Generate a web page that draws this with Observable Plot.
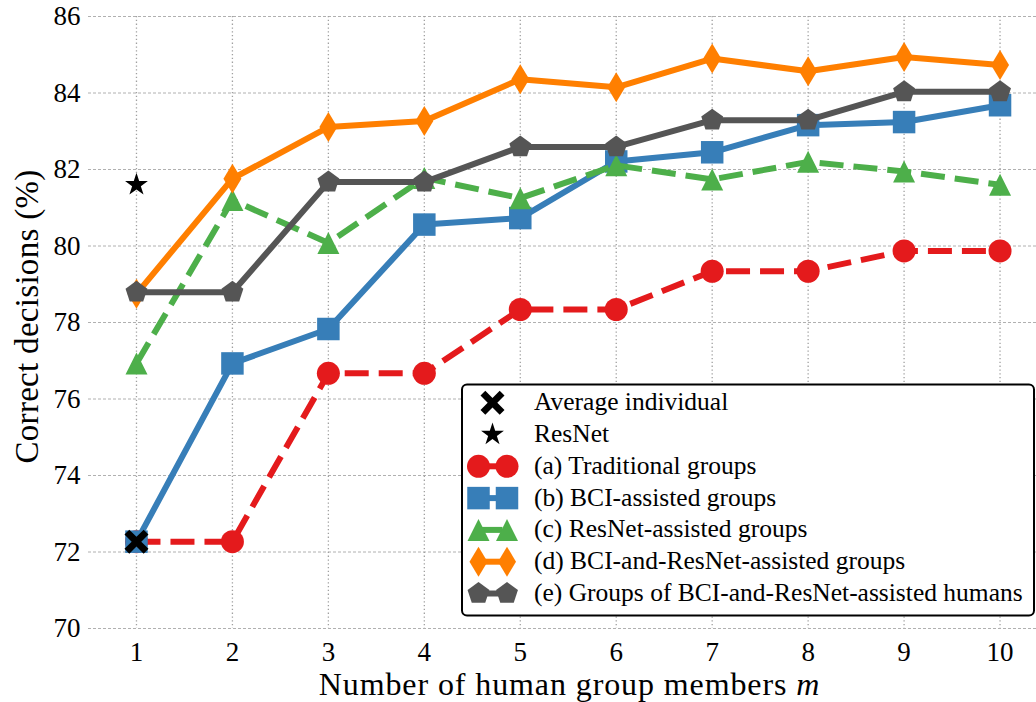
<!DOCTYPE html>
<html><head><meta charset="utf-8">
<script src="https://cdn.jsdelivr.net/npm/d3@7"></script>
<script src="https://cdn.jsdelivr.net/npm/@observablehq/plot@0.6"></script>
<style>
body{margin:0;background:#fff;}
#wrap{position:relative;width:1036px;height:702px;}
#wrap svg{position:absolute;left:0;top:0;}
</style></head><body><div id="wrap"></div>
<script>
// ---- data ----
const members = [1, 2, 3, 4, 5, 6, 7, 8, 9, 10];
const traditional = [72.27, 72.27, 76.67, 76.67, 78.34, 78.34, 79.34, 79.34, 79.87, 79.87];
const bciAssisted = [72.27, 76.93, 77.83, 80.56, 80.73, 82.21, 82.45, 83.16, 83.24, 83.68];
const resnetAssisted = [76.93, 81.2, 80.08, 81.78, 81.25, 82.11, 81.74, 82.2, 81.95, 81.6];
const bciResnetAssisted = [78.75, 81.76, 83.11, 83.27, 84.36, 84.15, 84.9, 84.57, 84.94, 84.73];
const groupsOfAssisted = [78.79, 78.79, 81.67, 81.67, 82.59, 82.59, 83.29, 83.29, 84.03, 84.03];
const averageIndividual = [{m: 1, v: 72.27}];
const resnetAlone = [{m: 1, v: 81.6}];
const yTicks = [70, 72, 74, 76, 78, 80, 82, 84, 86];
const xTicks = members;
const seriesNames = ["(a) Traditional groups", "(b) BCI-assisted groups", "(c) ResNet-assisted groups",
  "(d) BCI-and-ResNet-assisted groups", "(e) Groups of BCI-and-ResNet-assisted humans"];
const yLabel = "Correct decisions (%)";
const xLabelMain = "Number of human group members ";
const xLabelVar = "m";

// ---- symbols ----
const S = (size) => Math.sqrt(size / Math.PI);
function poly(c, pts) { pts.forEach(([x, y], i) => i ? c.lineTo(x, y) : c.moveTo(x, y)); c.closePath(); }
const symbols = {
  circle: {draw(c, size) { const r = S(size); c.moveTo(r, 0); c.arc(0, 0, r, 0, 2 * Math.PI); }},
  square: {draw(c, size) { const r = S(size); c.rect(-r, -r, 2 * r, 2 * r); }},
  triangle: {draw(c, size) { const r = S(size); poly(c, [[0, -r], [r, r], [-r, r]]); }},
  thinDiamond: {draw(c, size) { const r = S(size); poly(c, [[0, -r], [0.6 * r, 0], [0, r], [-0.6 * r, 0]]); }},
  pentagon: {draw(c, size) { const r = S(size); poly(c, d3.range(5).map(k => { const a = -Math.PI / 2 + k * 2 * Math.PI / 5; return [r * Math.cos(a), r * Math.sin(a)]; })); }},
  star: {draw(c, size) { const r = S(size); poly(c, d3.range(10).map(k => { const a = -Math.PI / 2 + k * Math.PI / 5; const rr = k % 2 ? r * 0.382 : r; return [rr * Math.cos(a), rr * Math.sin(a)]; })); }},
  xFilled: {draw(c, size) { const r = S(size), a = 0.4; poly(c, [[-1 + a, -1], [0, -a], [1 - a, -1], [1, -1 + a], [a, 0], [1, 1 - a], [1 - a, 1], [0, a], [-1 + a, 1], [-1, 1 - a], [-a, 0], [-1, -1 + a]].map(([x, y]) => [x * r, y * r])); }}
};

const seriesValues = [traditional, bciAssisted, resnetAssisted, bciResnetAssisted, groupsOfAssisted];
const seriesStyle = [
  {color: "#e41a1c", dash: "24,10", symbol: symbols.circle, r: 11.5},
  {color: "#377eb8", dash: null, symbol: symbols.square, r: 11.25},
  {color: "#4daf4a", dash: "24,10", symbol: symbols.triangle, r: 11},
  {color: "#ff7f00", dash: null, symbol: symbols.thinDiamond, r: 15},
  {color: "#555555", dash: null, symbol: symbols.pentagon, r: 11.5}
];
const FONT = "'Liberation Serif', 'Times New Roman', serif";
const LW = 6;

const marks = [
  Plot.gridY({ticks: yTicks, stroke: "#b0b0b0", strokeOpacity: 1, strokeWidth: 1, strokeDasharray: "3,2"}),
  Plot.gridX({ticks: xTicks, stroke: "#a0a0a0", strokeOpacity: 1, strokeWidth: 1.3, strokeDasharray: "1.3,2.5"}),
  Plot.axisY({ticks: yTicks, tickSize: 0, tickPadding: 8, label: null, fontSize: 27, fontFamily: FONT}),
  Plot.axisX({ticks: xTicks, tickSize: 0, tickPadding: 13, label: null, fontSize: 27, fontFamily: FONT})
];
seriesValues.forEach((vals, i) => {
  const st = seriesStyle[i];
  const data = members.map((m, j) => ({m, v: vals[j]}));
  marks.push(Plot.line(data, {x: "m", y: "v", stroke: st.color, strokeWidth: LW,
    strokeDasharray: st.dash || undefined, strokeLinecap: st.dash ? "butt" : "round", strokeLinejoin: "round"}));
  marks.push(Plot.dot(data, {x: "m", y: "v", symbol: st.symbol, r: st.r, fill: st.color, stroke: "none"}));
});
marks.push(Plot.dot(averageIndividual, {x: "m", y: "v", symbol: symbols.xFilled, r: 12, fill: "black", stroke: "none"}));
marks.push(Plot.dot(resnetAlone, {x: "m", y: "v", symbol: symbols.star, r: 12, fill: "black", stroke: "none"}));
marks.push(Plot.text([yLabel], {frameAnchor: "left", rotate: -90, dx: -60.6, dy: -6, fontSize: 33, fill: "black", lineAnchor: "middle", textAnchor: "middle", fontFamily: FONT}));
marks.push(Plot.text([xLabelMain + xLabelVar], {frameAnchor: "bottom", dx: 7, dy: 56.3, fontSize: 32, fill: "black", lineAnchor: "middle", textAnchor: "middle", fontFamily: FONT}));

const chart = Plot.plot({
  width: 1036, height: 702,
  marginLeft: 88, marginRight: 0, marginTop: 16, marginBottom: 74,
  x: {domain: [0.5, 10.38]},
  y: {domain: [70, 86]},
  style: {fontFamily: FONT, fontSize: "27px", color: "black", background: "white"},
  marks
});
// italic m in x label
chart.querySelectorAll("text").forEach(t => {
  if (t.textContent === xLabelMain + xLabelVar) {
    t.textContent = xLabelMain;
    t.setAttribute("letter-spacing", "0.9");
    const ts = document.createElementNS("http://www.w3.org/2000/svg", "tspan");
    ts.setAttribute("font-style", "italic");
    ts.textContent = xLabelVar;
    t.appendChild(ts);
  } else if (t.textContent === yLabel) {
    t.setAttribute("letter-spacing", "0.3");
  }
});
document.getElementById("wrap").appendChild(chart);

// ---- legend ----
const lg = d3.create("svg").attr("width", 1036).attr("height", 702);
lg.append("rect").attr("x", 462).attr("y", 384.5).attr("width", 572).attr("height", 231)
  .attr("rx", 5).attr("fill", "white").attr("stroke", "black").attr("stroke-width", 2);
const rowY = (k) => 402.7 + k * 31.8;
const symPath = (sym, r) => { const p = d3.path(); sym.draw(p, Math.PI * r * r); return p.toString(); };
const legendEntries = [
  {label: "Average individual", sym: symbols.xFilled, r: 12, color: "black", single: true},
  {label: "ResNet", sym: symbols.star, r: 12, color: "black", single: true},
  ...seriesNames.map((n, i) => ({label: n, sym: seriesStyle[i].symbol, r: seriesStyle[i].r, color: seriesStyle[i].color, dash: seriesStyle[i].dash}))
];
legendEntries.forEach((e, k) => {
  const y = rowY(k);
  const g = lg.append("g");
  if (e.single) {
    g.append("path").attr("d", symPath(e.sym, e.r)).attr("transform", `translate(492.5,${y})`).attr("fill", e.color);
  } else {
    g.append("line").attr("x1", 478.5).attr("x2", 507).attr("y1", y).attr("y2", y)
      .attr("stroke", e.color).attr("stroke-width", LW).attr("stroke-dasharray", e.dash);
    [478.5, 507].forEach(x => g.append("path").attr("d", symPath(e.sym, e.r)).attr("transform", `translate(${x},${y})`).attr("fill", e.color));
  }
  g.append("text").attr("x", 534).attr("y", y + 7.5).attr("font-family", FONT).attr("font-size", 25.5)
    .attr("fill", "black").text(e.label);
});
document.getElementById("wrap").appendChild(lg.node());
</script>
</body></html>
